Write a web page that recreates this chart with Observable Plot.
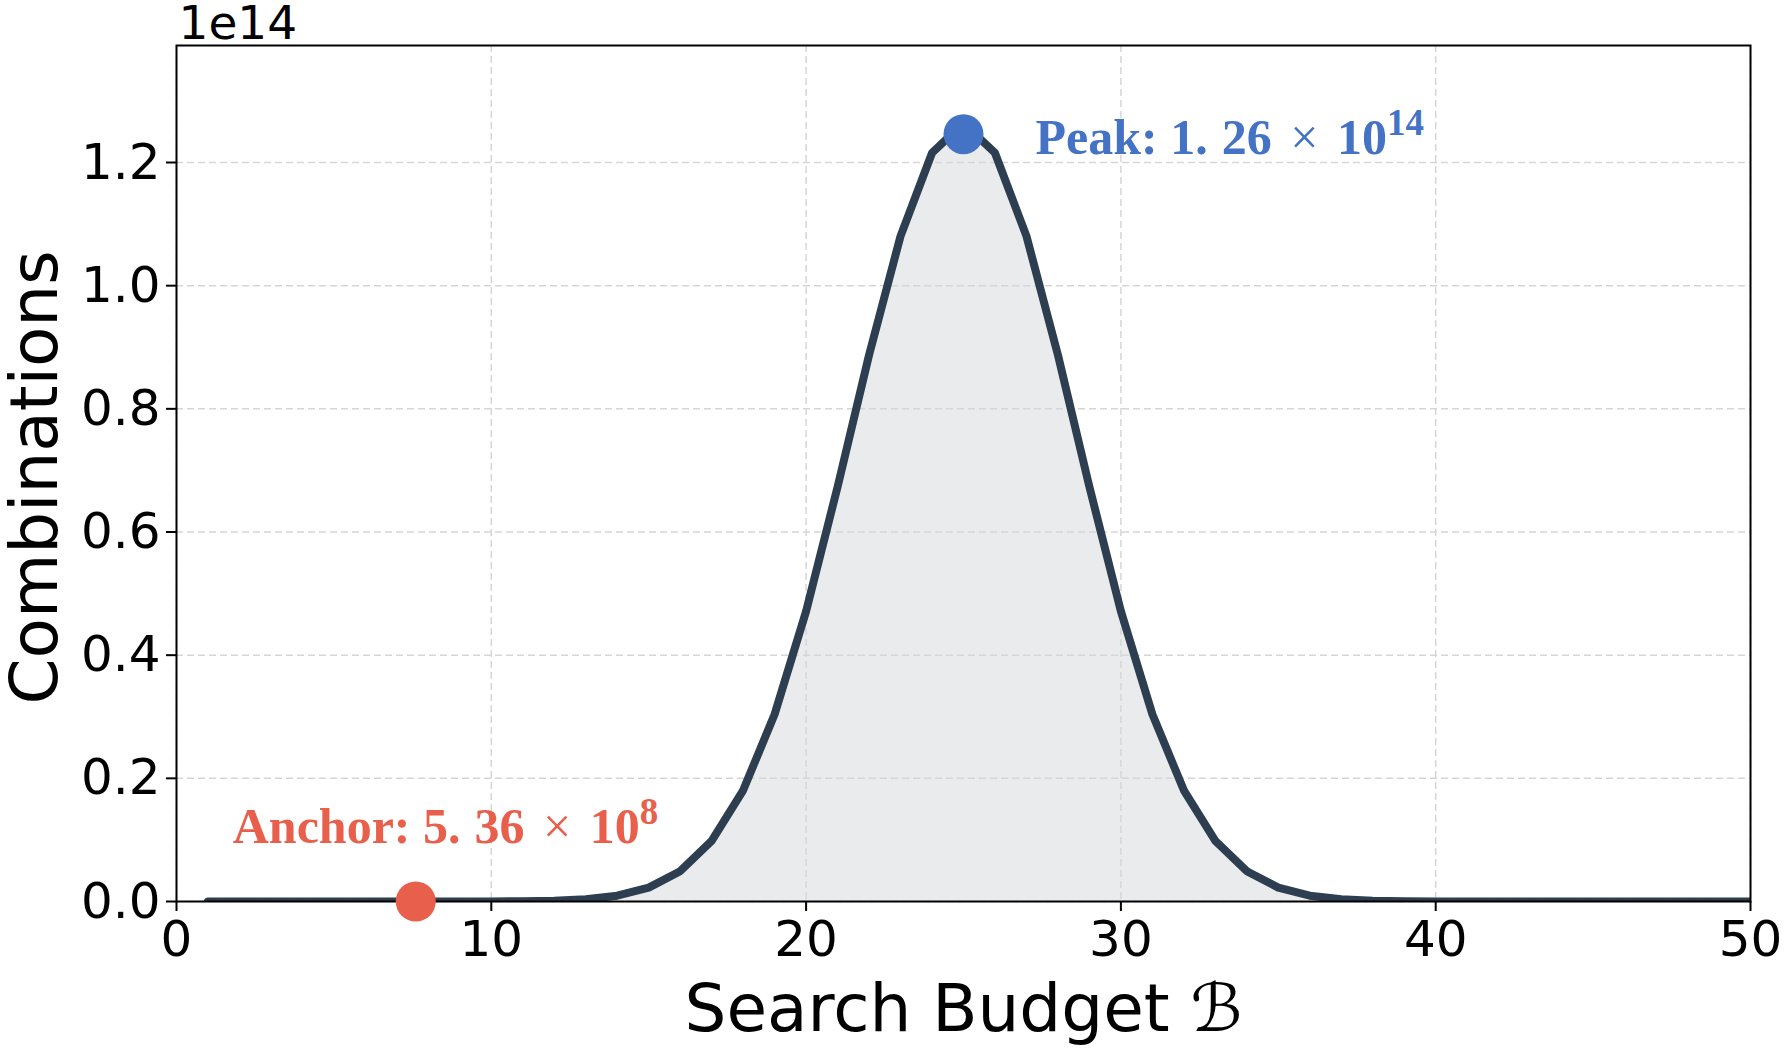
<!DOCTYPE html>
<html>
<head>
<meta charset="utf-8">
<script src="https://cdn.jsdelivr.net/npm/d3@7"></script>
<script src="https://cdn.jsdelivr.net/npm/@observablehq/plot@0.6"></script>
<style>
  html, body { margin: 0; padding: 0; background: #ffffff; }
</style>
</head>
<body>
<div id="chart"></div>
<script>
// ---- data ----
const budget = [1, 2, 3, 4, 5, 6, 7, 8, 9, 10, 11, 12, 13, 14, 15, 16, 17, 18, 19, 20,
  21, 22, 23, 24, 25, 26, 27, 28, 29, 30, 31, 32, 33, 34, 35, 36, 37, 38, 39, 40,
  41, 42, 43, 44, 45, 46, 47, 48, 49, 50];
const combinations = [50, 1225, 19600, 230300, 2118760, 15890700, 99884400, 536878650,
  2505433700, 10272278170, 37353738800, 121399651100, 354860518600, 937845656300,
  2250829575120, 4923689695575, 9847379391150, 18053528883775, 30405943383200,
  47129212243960, 67327446062800, 88749815264600, 108043253365600, 121548660036300,
  126410606437752, 121548660036300, 108043253365600, 88749815264600, 67327446062800,
  47129212243960, 30405943383200, 18053528883775, 9847379391150, 4923689695575,
  2250829575120, 937845656300, 354860518600, 121399651100, 37353738800, 10272278170,
  2505433700, 536878650, 99884400, 15890700, 2118760, 230300, 19600, 1225, 50, 1];
const xTicks = [0, 10, 20, 30, 40, 50];
const yTicks = [0, 0.2e14, 0.4e14, 0.6e14, 0.8e14, 1.0e14, 1.2e14];
const yDomain = [0, 1.39e14];

const peakBudget = [25];
const peakValue = [1.246e14];
const peakLabel = ["Peak: 1.26 × 10^14"];
const anchorBudget = [7.6];
const anchorValue = [5.36e8];
const anchorLabel = ["Anchor: 5.36 × 10^8"];

const xLabel = ["Search Budget ℬ"];
const yLabel = ["Combinations"];
const offsetLabel = ["1e14"];

// ---- tables built from the arrays ----
const series = budget.map((b, i) => ({b, c: combinations[i]}));
const peak = peakBudget.map((b, i) => ({b, v: peakValue[i], t: peakLabel[i]}));
const anchor = anchorBudget.map((b, i) => ({b, v: anchorValue[i], t: anchorLabel[i]}));

const LINE = "#2c3e50";
const BLUE = "#4472c4";
const RED = "#e8604c";
const GRID = {stroke: "#d6d6d6", strokeOpacity: 1, strokeWidth: 1.5, strokeDasharray: "7,4"};
const SERIF = "'Liberation Serif', 'Times New Roman', serif";

const chart = Plot.plot({
  width: 1784,
  height: 1048,
  marginLeft: 176,
  marginRight: 34,
  marginTop: 45,
  marginBottom: 147,
  style: {fontFamily: "'DejaVu Sans', sans-serif", fontSize: "50px", color: "#000", background: "#fff", overflow: "visible"},
  x: {domain: [0, 50]},
  y: {domain: yDomain},
  marks: [
    Plot.areaY(series, {x: "b", y: "c", fill: LINE, fillOpacity: 0.1}),
    Plot.gridX(xTicks, GRID),
    Plot.gridY(yTicks, GRID),
    Plot.lineY(series, {x: "b", y: "c", stroke: LINE, strokeWidth: 8, strokeLinejoin: "round", clip: true}),
    Plot.frame({stroke: "#000", strokeWidth: 2}),
    Plot.axisX(xTicks, {tickSize: 10, tickPadding: 9, strokeWidth: 2, tickFormat: d => String(d), fontSize: 50, label: null}),
    Plot.axisY(yTicks, {tickSize: 10, tickPadding: 6, strokeWidth: 2, tickFormat: d => (d / 1e14).toFixed(1), fontSize: 50, label: null}),
    Plot.dot(peak, {x: "b", y: "v", r: 20, fill: BLUE, stroke: null}),
    Plot.dot(anchor, {x: "b", y: "v", r: 20, fill: RED, stroke: null}),
    Plot.text(peak, {x: "b", y: "v", text: "t", fill: BLUE, textAnchor: "start", lineAnchor: "bottom",
      dx: 72, dy: 20, fontFamily: SERIF, fontWeight: "bold", fontSize: 50}),
    Plot.text(anchor, {x: "b", y: "v", text: "t", fill: RED, textAnchor: "start", lineAnchor: "bottom",
      dx: -183, dy: -58, fontFamily: SERIF, fontWeight: "bold", fontSize: 50}),
    Plot.text(xLabel, {frameAnchor: "bottom", textAnchor: "middle", lineAnchor: "bottom", dy: 129, fontSize: 66, fill: "#000"}),
    Plot.text(yLabel, {frameAnchor: "left", textAnchor: "middle", rotate: -90, lineAnchor: "bottom", dx: -120, dy: 4, fontSize: 66, fill: "#000"}),
    Plot.text(offsetLabel, {frameAnchor: "top-left", textAnchor: "start", lineAnchor: "bottom", dx: 2, dy: -7, fontSize: 47, fill: "#000"})
  ]
});

document.getElementById("chart").appendChild(chart);

// math-style annotations: gap after the decimal point, wider spacing round ×, superscript exponent
d3.select(chart).selectAll("text").each(function () {
  const s = this.textContent;
  if (!s.includes("^") || this.querySelector("tspan tspan")) return;
  const [base, exp] = s.split("^");
  const m = base.match(/^(.*?\d\.)(\d+)\s*×\s*(\d+)$/);
  const el = d3.select(this);
  el.text(null);
  if (m) {
    el.append("tspan").text(m[1]);
    el.append("tspan").attr("dx", 14).text(m[2] + " ");
    el.append("tspan").attr("dx", 6).attr("font-weight", "normal").text("×");
    el.append("tspan").attr("dx", 6).text(" " + m[3]);
  } else {
    el.append("tspan").text(base);
  }
  el.append("tspan").attr("dy", -19).attr("font-size", 37).text(exp);
});
</script>
</body>
</html>
